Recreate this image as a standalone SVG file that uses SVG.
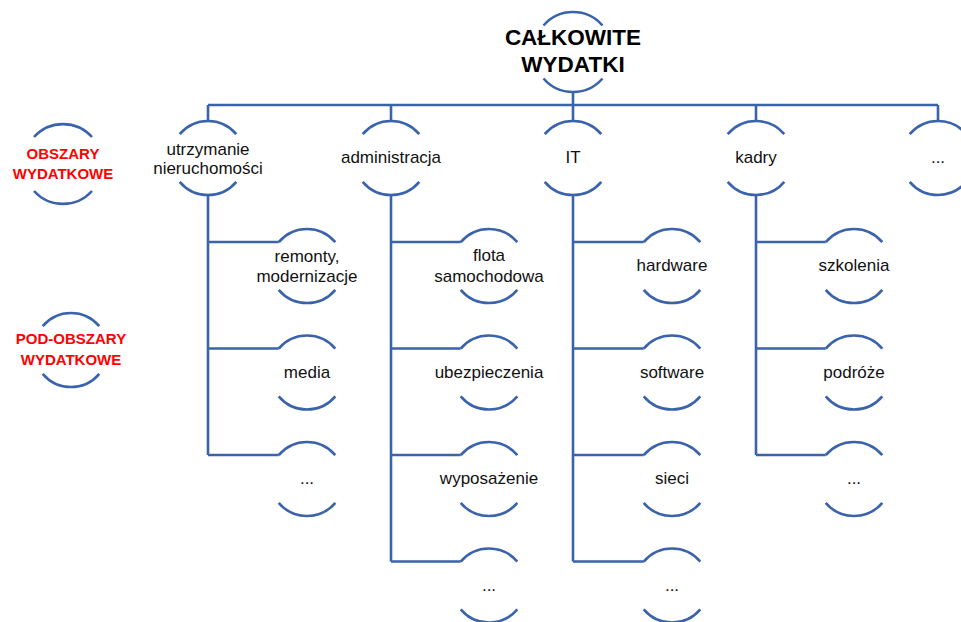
<svg xmlns="http://www.w3.org/2000/svg" width="961" height="622" viewBox="0 0 961 622">
<style>
.ln{fill:none;stroke:#3B63AC;stroke-width:2.6;stroke-linecap:butt;stroke-linejoin:miter}
.t{font-family:"Liberation Sans",Arial,sans-serif;font-size:17px;fill:#111;text-anchor:middle}
.title{font-family:"Liberation Sans",Arial,sans-serif;font-size:22.5px;font-weight:bold;fill:#000;text-anchor:middle}
.leg{font-family:"Liberation Sans",Arial,sans-serif;font-size:15px;font-weight:bold;fill:#FF0000;text-anchor:middle}
</style>
<rect width="961" height="622" fill="#fff"/>
<g id="connectors" class="ln">
<path d="M573 91V105M208 105H938M208 105V121M391 105V121M573 105V121M756 105V121M938 105V121"/>
<path d="M208 195V455M208 242H278.7M208 348.5H278.7M208 455H278.7"/>
<path d="M391 195V561.5M391 242H460.7M391 348.5H460.7M391 455H460.7M391 561.5H460.7"/>
<path d="M573 195V561.5M573 242H643.7M573 348.5H643.7M573 455H643.7M573 561.5H643.7"/>
<path d="M756 195V455M756 242H825.7M756 348.5H825.7M756 455H825.7"/>
</g>
<g id="title">
<path class="ln" d="M543.5 25.5A39 39 0 0 1 602.5 25.5M543.5 78.5A39 39 0 0 0 602.5 78.5"/>
<text class="title" x="573" y="45">CAŁKOWITE</text>
<text class="title" x="573" y="72">WYDATKI</text>
</g>
<g id="legend1">
<path class="ln" d="M34 137A39 39 0 0 1 92 137M34 191A39 39 0 0 0 92 191"/>
<text class="leg" x="63" y="159">OBSZARY</text>
<text class="leg" x="63" y="179">WYDATKOWE</text>
</g>
<g id="legend2">
<path class="ln" d="M42.7 326.2A37 37 0 0 1 99.3 326.2M42.7 373.8A37 37 0 0 0 99.3 373.8"/>
<text class="leg" x="71" y="344">POD-OBSZARY</text>
<text class="leg" x="71" y="365">WYDATKOWE</text>
</g>
<g id="n-utrzymanie">
<path class="ln" d="M179.7 134.2A37 37 0 0 1 236.3 134.2M179.7 181.8A37 37 0 0 0 236.3 181.8"/>
<text class="t" x="208" y="155">utrzymanie</text>
<text class="t" x="208" y="174">nieruchomości</text>
</g>
<g id="n-administracja">
<path class="ln" d="M362.7 134.2A37 37 0 0 1 419.3 134.2M362.7 181.8A37 37 0 0 0 419.3 181.8"/>
<text class="t" x="391" y="163">administracja</text>
</g>
<g id="n-it">
<path class="ln" d="M544.7 134.2A37 37 0 0 1 601.3 134.2M544.7 181.8A37 37 0 0 0 601.3 181.8"/>
<text class="t" x="573" y="163">IT</text>
</g>
<g id="n-kadry">
<path class="ln" d="M727.7 134.2A37 37 0 0 1 784.3 134.2M727.7 181.8A37 37 0 0 0 784.3 181.8"/>
<text class="t" x="756" y="163">kadry</text>
</g>
<g id="n-more">
<path class="ln" d="M909.7 134.2A37 37 0 0 1 966.3 134.2M909.7 181.8A37 37 0 0 0 966.3 181.8"/>
<text class="t" x="938" y="163">...</text>
</g>
<g id="c1-1">
<path class="ln" d="M278.7 242.2A37 37 0 0 1 335.3 242.2M278.7 289.8A37 37 0 0 0 335.3 289.8"/>
<text class="t" x="307" y="262">remonty,</text>
<text class="t" x="307" y="282">modernizacje</text>
</g>
<g id="c1-2">
<path class="ln" d="M278.7 348.7A37 37 0 0 1 335.3 348.7M278.7 396.3A37 37 0 0 0 335.3 396.3"/>
<text class="t" x="307" y="378">media</text>
</g>
<g id="c1-3">
<path class="ln" d="M278.7 455.2A37 37 0 0 1 335.3 455.2M278.7 502.8A37 37 0 0 0 335.3 502.8"/>
<text class="t" x="307" y="484">...</text>
</g>
<g id="c2-1">
<path class="ln" d="M460.7 242.2A37 37 0 0 1 517.3 242.2M460.7 289.8A37 37 0 0 0 517.3 289.8"/>
<text class="t" x="489" y="261">flota</text>
<text class="t" x="489" y="282">samochodowa</text>
</g>
<g id="c2-2">
<path class="ln" d="M460.7 348.7A37 37 0 0 1 517.3 348.7M460.7 396.3A37 37 0 0 0 517.3 396.3"/>
<text class="t" x="489" y="378">ubezpieczenia</text>
</g>
<g id="c2-3">
<path class="ln" d="M460.7 455.2A37 37 0 0 1 517.3 455.2M460.7 502.8A37 37 0 0 0 517.3 502.8"/>
<text class="t" x="489" y="484">wyposażenie</text>
</g>
<g id="c2-4">
<path class="ln" d="M460.7 561.7A37 37 0 0 1 517.3 561.7M460.7 609.3A37 37 0 0 0 517.3 609.3"/>
<text class="t" x="489" y="591">...</text>
</g>
<g id="c3-1">
<path class="ln" d="M643.7 242.2A37 37 0 0 1 700.3 242.2M643.7 289.8A37 37 0 0 0 700.3 289.8"/>
<text class="t" x="672" y="271">hardware</text>
</g>
<g id="c3-2">
<path class="ln" d="M643.7 348.7A37 37 0 0 1 700.3 348.7M643.7 396.3A37 37 0 0 0 700.3 396.3"/>
<text class="t" x="672" y="378">software</text>
</g>
<g id="c3-3">
<path class="ln" d="M643.7 455.2A37 37 0 0 1 700.3 455.2M643.7 502.8A37 37 0 0 0 700.3 502.8"/>
<text class="t" x="672" y="484">sieci</text>
</g>
<g id="c3-4">
<path class="ln" d="M643.7 561.7A37 37 0 0 1 700.3 561.7M643.7 609.3A37 37 0 0 0 700.3 609.3"/>
<text class="t" x="672" y="591">...</text>
</g>
<g id="c4-1">
<path class="ln" d="M825.7 242.2A37 37 0 0 1 882.3 242.2M825.7 289.8A37 37 0 0 0 882.3 289.8"/>
<text class="t" x="854" y="271">szkolenia</text>
</g>
<g id="c4-2">
<path class="ln" d="M825.7 348.7A37 37 0 0 1 882.3 348.7M825.7 396.3A37 37 0 0 0 882.3 396.3"/>
<text class="t" x="854" y="378">podróże</text>
</g>
<g id="c4-3">
<path class="ln" d="M825.7 455.2A37 37 0 0 1 882.3 455.2M825.7 502.8A37 37 0 0 0 882.3 502.8"/>
<text class="t" x="854" y="484">...</text>
</g>
</svg>
